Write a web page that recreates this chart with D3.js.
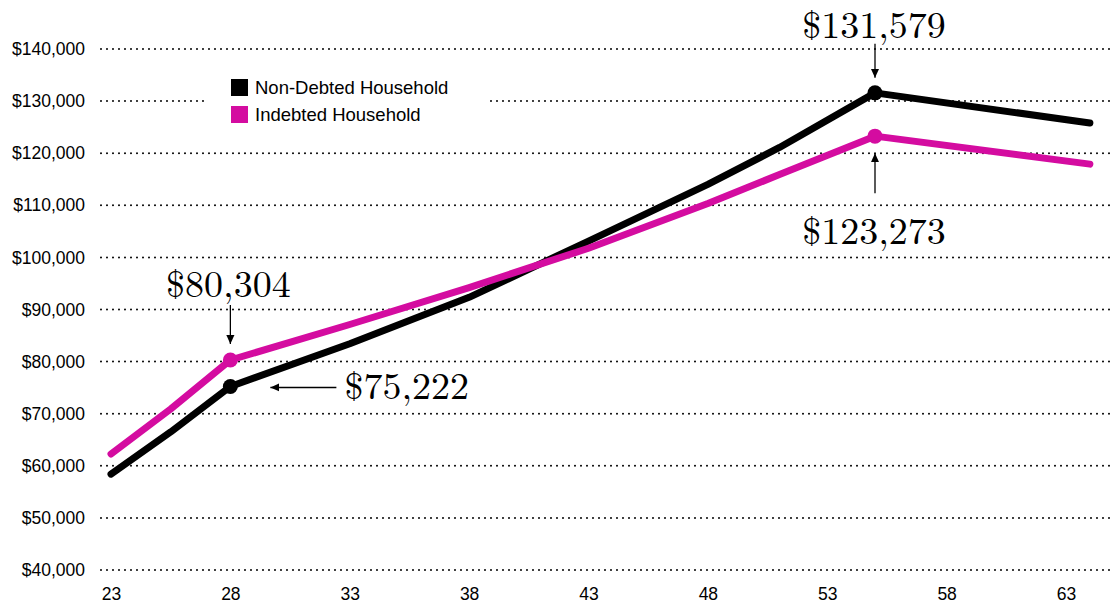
<!DOCTYPE html>
<html><head><meta charset="utf-8">
<script src="https://cdn.jsdelivr.net/npm/d3@7"></script>
<style>
html,body{margin:0;padding:0;background:#fff;}
svg{display:block;}
</style></head>
<body>
<script>
// ---- data ----
const ages = [23, 25.5, 28, 33, 38, 43, 48, 51, 55, 64];
const nonDebted = [58400, 66500, 75222, 83420, 92330, 103140, 114030, 121100, 131579, 125800];
const indebted  = [62270, 70900, 80304, 87120, 94210, 101760, 110360, 115900, 123273, 117900];
const markerAges = [28, 55];
const xTicks = [23, 28, 33, 38, 43, 48, 53, 58, 63];
const yTicks = [40000, 50000, 60000, 70000, 80000, 90000, 100000, 110000, 120000, 130000, 140000];
const seriesNames = ["Non-Debted Household", "Indebted Household"];
const seriesColors = ["#000000", "#d40ca0"];

const W = 1113, H = 611;
const svg = d3.select("body").append("svg").attr("width", W).attr("height", H);

const defs = svg.append("defs");
defs.append("marker").attr("id","arrow").attr("viewBox","0 0 10 10")
  .attr("refX",10).attr("refY",5).attr("markerWidth",9).attr("markerHeight",10)
  .attr("markerUnits","userSpaceOnUse").attr("orient","auto")
  .append("path").attr("d","M0,0.5 L10,5 L0,9.5 Z").attr("fill","#000");

const x = d3.scaleLinear().domain([23, 63]).range([111, 1066]);
const y = d3.scaleLinear().domain([40000, 140000]).range([570, 49]);

const sans = "'Liberation Sans', Arial, Helvetica, sans-serif";

// grid lines
svg.append("g").selectAll("line").data(yTicks).join("line")
  .attr("x1", 101).attr("x2", W)
  .attr("y1", d => y(d)).attr("y2", d => y(d))
  .attr("stroke", "#000").attr("stroke-width", 2)
  .attr("stroke-linecap","round").attr("stroke-dasharray","0 6");

// y axis labels
const fmtAxis = d3.format("$,");
const yAxis = d3.axisLeft(y).tickValues(yTicks).tickFormat(fmtAxis).tickSize(0).tickPadding(0);
const gy = svg.append("g").attr("transform","translate(85,0)").call(yAxis);
gy.select(".domain").remove();
gy.selectAll("text").attr("font-family", sans).attr("font-size", 17.5).attr("fill","#000");

// x axis labels
const xAxis = d3.axisBottom(x).tickValues(xTicks).tickSize(0).tickPadding(0);
const gx = svg.append("g").attr("transform","translate(0,588)").call(xAxis);
gx.select(".domain").remove();
gx.selectAll("text").attr("font-family", sans).attr("font-size", 17.5).attr("fill","#000");

// legend (white box covering grid)
const lg = svg.append("g");
lg.append("rect").attr("x",206).attr("y",70).attr("width",280).attr("height",58).attr("fill","#fff");
seriesNames.forEach((n,i)=>{
  lg.append("rect").attr("x",231).attr("y",79 + i*27).attr("width",17).attr("height",17).attr("fill",seriesColors[i]);
  lg.append("text").attr("x",255).attr("y",94 + i*27).text(n)
    .attr("font-family", sans).attr("font-size",18.5).attr("fill","#000");
});

// lines
const line = d3.line().x(d => x(d[0])).y(d => y(d[1]));
[nonDebted, indebted].forEach((vals, i) => {
  const pts = ages.map((a, k) => [a, vals[k]]);
  svg.append("path").datum(pts).attr("d", line).attr("fill","none")
    .attr("stroke", seriesColors[i]).attr("stroke-width", 7)
    .attr("stroke-linecap","round").attr("stroke-linejoin","round");
  svg.append("g").selectAll("circle").data(pts.filter(p => markerAges.includes(p[0]))).join("circle")
    .attr("cx", d => x(d[0])).attr("cy", d => y(d[1])).attr("r", 7.5).attr("fill", seriesColors[i]);
});

// annotations
const fmt = d3.format("$,");
const serif = "'Latin Modern Roman','CMU Serif','Liberation Serif','DejaVu Serif',serif";
function val(series, age){ return series[ages.indexOf(age)]; }
function annText(tx, ty, txt, anchor){
  svg.append("text").attr("x",tx).attr("y",ty).attr("text-anchor",anchor||"middle")
    .attr("font-family",serif).attr("font-size",38).attr("fill","#000").text(txt);
}
function arrow(x1,y1,x2,y2){
  svg.append("line").attr("x1",x1).attr("y1",y1).attr("x2",x2).attr("y2",y2)
    .attr("stroke","#000").attr("stroke-width",1.3).attr("marker-end","url(#arrow)");
}
// $131,579 (top, black at 55)
{
  const px = x(55), py = y(val(nonDebted,55));
  annText(px - 1, py - 55, fmt(val(nonDebted,55)));
  arrow(px, py - 49, px, py - 15);
}
// $123,273 (below, magenta at 55)
{
  const px = x(55), py = y(val(indebted,55));
  annText(px - 1, py + 108, fmt(val(indebted,55)));
  arrow(px, py + 57, px, py + 17);
}
// $80,304 (above, magenta at 28)
{
  const px = x(28), py = y(val(indebted,28));
  annText(px - 2, py - 63, fmt(val(indebted,28)));
  arrow(px, py - 55, px, py - 16);
}
// $75,222 (right, black at 28)
{
  const px = x(28), py = y(val(nonDebted,28));
  annText(px + 114, py + 13, fmt(val(nonDebted,28)), "start");
  arrow(px + 106, py + 1, px + 40, py + 1);
}
</script>
</body></html>
